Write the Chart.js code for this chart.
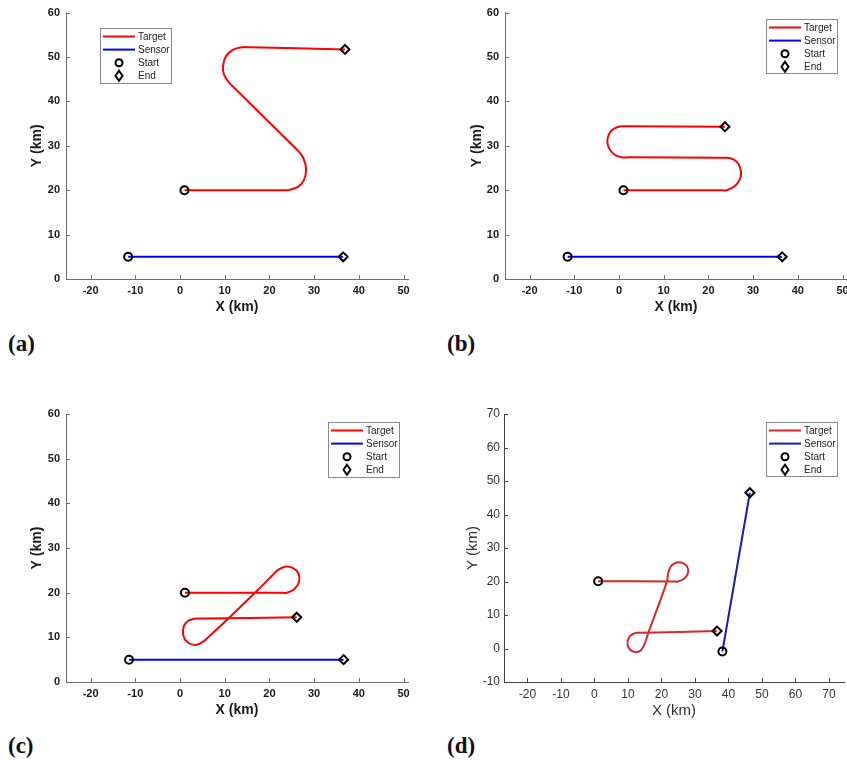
<!DOCTYPE html>
<html>
<head>
<meta charset="utf-8">
<script src="https://cdn.jsdelivr.net/npm/chart.js@4.4.1/dist/chart.umd.min.js"></script>
<style>
  body { margin: 0; background: #fff; width: 847px; height: 760px; overflow: hidden; position: relative; }
  canvas { position: absolute; }
  .tag { position: absolute; font: bold 23px "Liberation Serif", serif; color: #111; line-height: 23px; }
</style>
</head>
<body>
<canvas id="pa" width="420" height="316" style="left:0;top:0"></canvas>
<canvas id="pb" width="447" height="316" style="left:420px;top:0"></canvas>
<canvas id="pc" width="420" height="329" style="left:0;top:390px"></canvas>
<canvas id="pd" width="447" height="330" style="left:420px;top:390px"></canvas>
<div class="tag" style="left:8px;top:332px">(a)</div>
<div class="tag" style="left:447px;top:332px">(b)</div>
<div class="tag" style="left:8px;top:734px">(c)</div>
<div class="tag" style="left:447px;top:734px">(d)</div>
<script>
// legend labels
const seriesNames = ["Target", "Sensor", "Start", "End"];

// tick labels
const xTicksABC = [-20, -10, 0, 10, 20, 30, 40, 50];
const yTicksABC = [0, 10, 20, 30, 40, 50, 60];
const xTicksD = [-20, -10, 0, 10, 20, 30, 40, 50, 60, 70];
const yTicksD = [-10, 0, 10, 20, 30, 40, 50, 60, 70];

// (a) S-shaped target
const targetA = [[1.0, 20], [22.5, 20], [24.0, 20], [26.3, 20.7], [27.7, 22.2], [28.2, 24.8], [27.6, 27.2], [26.4, 28.9],
  [25.4, 29.9], [12.0, 43.2], [11.0, 44.2], [9.9, 45.9], [9.6, 47.9], [10.3, 50.2], [11.8, 51.6], [14.0, 52.2],
  [15.5, 52.2], [36.9, 51.7]];
const sensorA = [[-11.6, 5], [36.5, 5]];

// (b) zig-zag target
const targetB = [[1.0, 20], [22.6, 20], [24.1, 20], [26.0, 21.0], [27.1, 22.6], [27.3, 24.1], [26.8, 25.8], [25.7, 26.9],
  [24.1, 27.3], [22.6, 27.3], [2.1, 27.4], [0.6, 27.4], [-1.1, 28.1], [-2.3, 29.6], [-2.6, 31.2], [-2.1, 32.9],
  [-0.9, 34.0], [0.6, 34.4], [2.1, 34.4], [23.7, 34.3]];
const sensorB = [[-11.5, 5], [36.5, 5]];

// (c) figure-eight target
const targetC = [[1.1, 20], [22.4, 20], [23.9, 20], [25.6, 20.8], [26.6, 22.4], [26.5, 24.3], [25.3, 25.5], [23.5, 25.8],
  [21.8, 25.0], [20.8, 24.0], [17.0, 20.2], [11.0, 14.4], [6.4, 10.1], [5.4, 9.2], [3.6, 8.3], [1.7, 8.9], [0.7, 10.5],
  [0.9, 12.6], [2.0, 13.8], [3.6, 14.2], [5.1, 14.2], [26.1, 14.5]];
const sensorC = [[-11.4, 5], [36.6, 5]];

// (d) target with loops, sensor moving up
const targetD = [[1.1, 20.1], [23.4, 20.0], [24.9, 20.0], [26.9, 20.9], [28.0, 22.8], [27.5, 24.7], [25.9, 25.7],
  [24.0, 25.5], [22.6, 24.2], [22.0, 22.3], [21.6, 19.9], [16.2, 5.0], [14.6, 0.5], [13.3, -0.9], [11.3, -0.8],
  [9.9, 1.0], [10.3, 3.3], [11.6, 4.4], [13.0, 4.7], [14.5, 4.7], [36.6, 5.2]];
const sensorD = [[38.2, -0.9], [46.4, 46.5]];

const pts = (arr) => arr.map(([x, y]) => ({ x, y }));

const panelDecor = {
  id: "panelDecor",
  afterDraw(chart, args, opts) {
    const ctx = chart.ctx;
    const { left, bottom } = chart.chartArea;
    const xs = chart.scales.x, ys = chart.scales.y;
    ctx.save();
    ctx.strokeStyle = opts.axisColor;
    ctx.lineWidth = 1;
    xs.ticks.forEach((t) => {
      const p = Math.round(xs.getPixelForValue(t.value)) + 0.5;
      ctx.beginPath(); ctx.moveTo(p, bottom); ctx.lineTo(p, bottom - 4); ctx.stroke();
    });
    ys.ticks.forEach((t) => {
      const p = Math.round(ys.getPixelForValue(t.value)) + 0.5;
      ctx.beginPath(); ctx.moveTo(left, p); ctx.lineTo(left + 4, p); ctx.stroke();
    });

    // legend box
    const L = opts.legend;
    ctx.fillStyle = "#fff";
    ctx.fillRect(L.x, L.y, L.w, L.h);
    ctx.strokeStyle = "#8a8a8a";
    ctx.strokeRect(L.x + 0.5, L.y + 0.5, L.w, L.h);
    chart.data.datasets.forEach((ds, i) => {
      const y = L.y + 8.5 + i * 13.1;
      ctx.strokeStyle = ds.borderColor;
      ctx.lineWidth = 2;
      if (ds.showLine) {
        ctx.beginPath(); ctx.moveTo(L.x + 3, y); ctx.lineTo(L.x + 35, y); ctx.stroke();
      } else {
        const cx = L.x + 19;
        ctx.beginPath();
        if (ds.pointStyle === "circle") {
          ctx.arc(cx, y, 3.5, 0, Math.PI * 2);
        } else {
          ctx.moveTo(cx, y - 5); ctx.lineTo(cx + 3.5, y); ctx.lineTo(cx, y + 5); ctx.lineTo(cx - 3.5, y); ctx.closePath();
        }
        ctx.stroke();
      }
      ctx.fillStyle = "#222";
      ctx.font = "10px 'Liberation Sans', Arial, sans-serif";
      ctx.textBaseline = "middle";
      ctx.fillText(ds.label, L.x + 38, y + 0.5);
    });
    ctx.restore();
  }
};

function makePanel(id, target, sensor, cfg) {
  const datasets = [
    { label: seriesNames[0], data: pts(target), showLine: true, borderColor: cfg.red, borderWidth: 2,
      pointRadius: 0, tension: 0.35, order: 1 },
    { label: seriesNames[1], data: pts(sensor), showLine: true, borderColor: cfg.blue, borderWidth: 2,
      pointRadius: 0, order: 1 },
    { label: seriesNames[2], data: pts([target[0], sensor[0]]), showLine: false, pointStyle: "circle",
      pointRadius: 4, borderWidth: 2, borderColor: "#000", backgroundColor: "rgba(0,0,0,0)", order: 0 },
    { label: seriesNames[3], data: pts([target[target.length - 1], sensor[sensor.length - 1]]), showLine: false,
      pointStyle: "rectRot", pointRadius: 4.5, borderWidth: 2, borderColor: "#000", backgroundColor: "rgba(0,0,0,0)", order: 0 }
  ];
  const tickFont = { family: "'Liberation Sans', Arial, sans-serif", size: cfg.tickSize, weight: cfg.weight };
  const titleFont = { family: "'Liberation Sans', Arial, sans-serif", size: cfg.titleSize, weight: cfg.weight, lineHeight: 1.2 };
  new Chart(document.getElementById(id), {
    type: "scatter",
    data: { datasets },
    plugins: [panelDecor],
    options: {
      responsive: false,
      animation: false,
      devicePixelRatio: 1,
      layout: { padding: cfg.padding },
      plugins: {
        legend: { display: false },
        tooltip: { enabled: false },
        panelDecor: { axisColor: cfg.axisColor, legend: cfg.legend }
      },
      scales: {
        x: {
          type: "linear", min: cfg.xMin, max: cfg.xMax,
          afterBuildTicks: (s) => { s.ticks = cfg.xTicks.map((v) => ({ value: v })); },
          afterFit: (s) => { s.height = cfg.xHeight; },
          grid: { display: false, drawTicks: false },
          border: { display: true, color: cfg.axisColor, width: 1 },
          ticks: { font: tickFont, color: cfg.textColor, padding: cfg.xPad, maxRotation: 0, autoSkip: false },
          title: { display: true, text: "X (km)", font: titleFont, color: cfg.textColor, padding: 0 }
        },
        y: {
          type: "linear", min: cfg.yMin, max: cfg.yMax,
          afterBuildTicks: (s) => { s.ticks = cfg.yTicks.map((v) => ({ value: v })); },
          afterFit: (s) => { s.width = cfg.yWidth; },
          grid: { display: false, drawTicks: false },
          border: { display: true, color: cfg.axisColor, width: 1 },
          ticks: { font: tickFont, color: cfg.textColor, padding: cfg.yPad, autoSkip: false },
          title: { display: true, text: "Y (km)", font: titleFont, color: cfg.textColor, padding: 0 }
        }
      }
    }
  });
}

const styleABC = { red: "#ff0000", blue: "#0000ff", axisColor: "#6e6e6e", textColor: "#1a1a1a",
  tickSize: 11, titleSize: 14, weight: "bold", xTicks: xTicksABC, yTicks: yTicksABC,
  xMin: -25.5, xMax: 51, yMin: 0, yMax: 60, xPad: 5, yPad: 6 };

makePanel("pa", targetA, sensorA, Object.assign({}, styleABC, {
  padding: { left: 29, top: 11, right: 12, bottom: 0 }, yWidth: 37, xHeight: 37,
  legend: { x: 100, y: 28, w: 71, h: 55 } }));

makePanel("pb", targetB, sensorB, Object.assign({}, styleABC, {
  padding: { left: 49, top: 11, right: 20, bottom: 0 }, yWidth: 36, xHeight: 37,
  legend: { x: 346, y: 19, w: 71, h: 54 } }));

makePanel("pc", targetC, sensorC, Object.assign({}, styleABC, {
  padding: { left: 29, top: 24, right: 12, bottom: 0 }, yWidth: 37, xHeight: 37,
  legend: { x: 328, y: 32, w: 71, h: 55 } }));

makePanel("pd", targetD, sensorD, {
  red: "#d42a2a", blue: "#1c1cb4", axisColor: "#444", textColor: "#333",
  tickSize: 12, titleSize: 15, weight: "normal", xTicks: xTicksD, yTicks: yTicksD,
  xMin: -27, xMax: 74.5, yMin: -10, yMax: 70, xPad: 5, yPad: 4,
  padding: { left: 44, top: 24, right: 23, bottom: 0 }, yWidth: 40, xHeight: 38,
  legend: { x: 346, y: 32, w: 71, h: 54 } });
</script>
</body>
</html>
